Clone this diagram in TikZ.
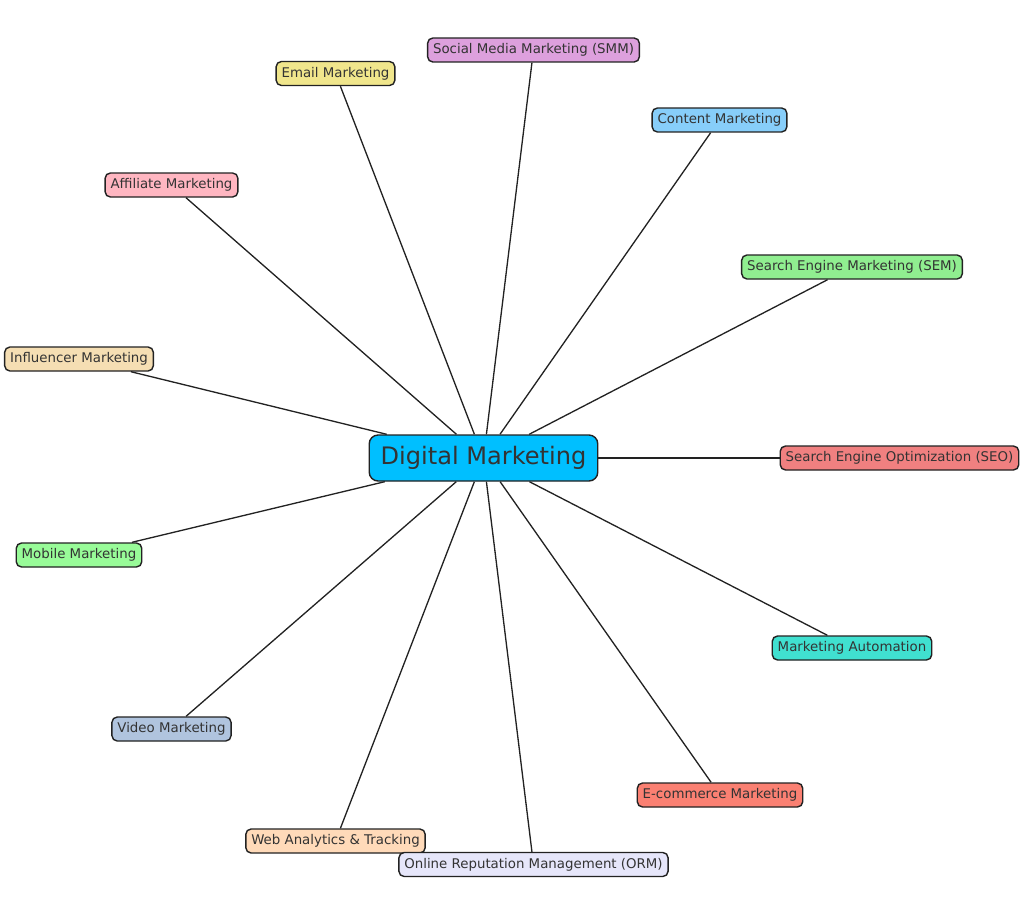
\documentclass[tikz,border=0pt]{standalone}
\usepackage{fontspec}
\setmainfont{DejaVu Sans}
\usepackage{xcolor}

\definecolor{hubblue}{HTML}{00BFFF}
\definecolor{smmpink}{HTML}{DDA0DD}
\definecolor{emailkhaki}{HTML}{F0E68C}
\definecolor{contentblue}{HTML}{87CEFA}
\definecolor{affpink}{HTML}{FFB6C1}
\definecolor{semgreen}{HTML}{90EE90}
\definecolor{inflwheat}{HTML}{F5DEB3}
\definecolor{seocoral}{HTML}{F08080}
\definecolor{mobgreen}{HTML}{98FB98}
\definecolor{autoturq}{HTML}{40E0D0}
\definecolor{videosteel}{HTML}{B0C4DE}
\definecolor{ecomsalmon}{HTML}{FA8072}
\definecolor{webpeach}{HTML}{FFDAB9}
\definecolor{ormlav}{HTML}{E6E6FA}
\definecolor{txtgray}{HTML}{333333}
\definecolor{linegray}{HTML}{222222}

\begin{document}
\begin{tikzpicture}[
  x=0.02cm, y=-0.02cm,
  topic/.style={draw=linegray, line width=0.8pt, rounded corners=3pt, text=txtgray,
    font=\fontsize{7.6}{9}\selectfont, inner xsep=3.1pt, inner ysep=0pt,
    minimum height=0.48cm},
  hub/.style={topic, font=\fontsize{13.7}{16}\selectfont, inner xsep=6.5pt,
    minimum height=0.92cm, rounded corners=5pt, fill=hubblue},
  link/.style={draw=linegray, line width=0.75pt}
]
\useasboundingbox (0,0) rectangle (1024,916);

% hub and topics
\node[hub] (dm) at (483.5,458) {Digital Marketing};
\node[topic, fill=smmpink] (smm) at (533.5,50) {Social Media Marketing (SMM)};
\node[topic, fill=emailkhaki] (email) at (335.5,73.5) {Email Marketing};
\node[topic, fill=contentblue] (content) at (719.5,120) {Content Marketing};
\node[topic, fill=affpink] (aff) at (171.5,185) {Affiliate Marketing};
\node[topic, fill=semgreen] (sem) at (852,267) {Search Engine Marketing (SEM)};
\node[topic, fill=inflwheat] (infl) at (79,359) {Influencer Marketing};
\node[topic, fill=seocoral] (seo) at (899.5,458) {Search Engine Optimization (SEO)};
\node[topic, fill=mobgreen] (mobile) at (79,555) {Mobile Marketing};
\node[topic, fill=autoturq] (auto) at (852,648) {Marketing Automation};
\node[topic, fill=videosteel] (video) at (171.5,729) {Video Marketing};
\node[topic, fill=ecomsalmon] (ecom) at (720,795) {E-commerce Marketing};
\node[topic, fill=webpeach] (web) at (335.5,841) {Web Analytics \& Tracking};
\node[topic, fill=ormlav] (orm) at (533.5,864.5) {Online Reputation Management (ORM)};

% spokes
\foreach \t in {smm,email,content,aff,sem,infl,seo,mobile,auto,video,ecom,web,orm}
  \draw[link] (dm) -- (\t);
\end{tikzpicture}
\end{document}
